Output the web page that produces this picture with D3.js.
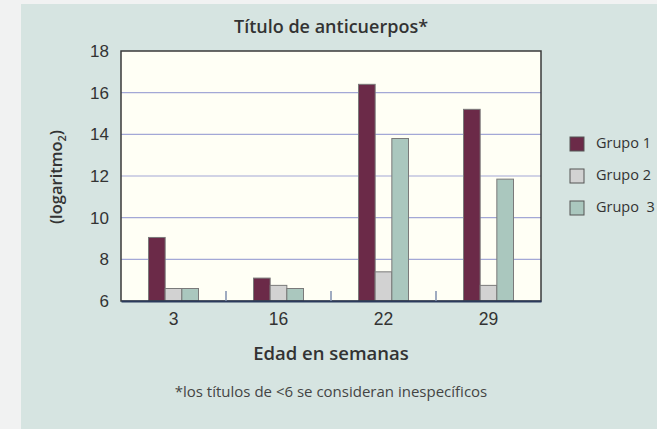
<!DOCTYPE html>
<html>
<head>
<meta charset="utf-8">
<script src="https://cdn.jsdelivr.net/npm/d3@7"></script>
<style>
  body { margin: 0; background: #f1f2f2; }
  svg { display: block; font-family: "Open Sans", sans-serif; }
</style>
</head>
<body>
<div id="chart"></div>
<script>
// Chart data
var weeks = ["3", "16", "22", "29"];
var groups = ["Grupo 1", "Grupo 2", "Grupo  3"];
var grupo1 = [9.05, 7.1, 16.4, 15.2];
var grupo2 = [6.6, 6.75, 7.4, 6.75];
var grupo3 = [6.6, 6.6, 13.8, 11.85];
var yTicks = [6, 8, 10, 12, 14, 16, 18];
var colors = ["#6b2a48", "#d2d2d2", "#aac7be"];

var svgWidth = 657;
var svgHeight = 429;

var margin = { top: 51, right: 116, bottom: 128, left: 121 };
var width = svgWidth - margin.left - margin.right;
var height = svgHeight - margin.top - margin.bottom;

var svg = d3.select("#chart").append("svg")
  .attr("width", svgWidth)
  .attr("height", svgHeight);

// panel background
svg.append("rect")
  .attr("x", 21).attr("y", 4)
  .attr("width", svgWidth - 21).attr("height", svgHeight - 4)
  .attr("fill", "#d6e4e1");

var chartGroup = svg.append("g")
  .attr("transform", `translate(${margin.left}, ${margin.top})`);

var xScale = d3.scaleBand().domain(weeks).range([0, width]);
var yScale = d3.scaleLinear().domain([6, 18]).range([height, 0]);
var subScale = d3.scaleBand().domain(d3.range(groups.length))
  .range([0, 50]);

// plot background
chartGroup.append("rect")
  .attr("width", width).attr("height", height)
  .attr("fill", "#fffff5");

// gridlines
chartGroup.append("g")
  .selectAll("line")
  .data(yTicks.slice(1, -1))
  .enter()
  .append("line")
  .attr("x1", 0).attr("x2", width)
  .attr("y1", d => yScale(d)).attr("y2", d => yScale(d))
  .attr("stroke", "#a3a8d6")
  .attr("stroke-width", 1.2);

// bars
var series = [grupo1, grupo2, grupo3];
series.forEach(function(vals, gi) {
  chartGroup.append("g")
    .selectAll("rect")
    .data(vals)
    .enter()
    .append("rect")
    .attr("x", (d, i) => xScale(weeks[i]) + xScale.bandwidth() / 2 - 25 + subScale(gi))
    .attr("y", d => yScale(d))
    .attr("width", subScale.bandwidth())
    .attr("height", d => yScale(6) - yScale(d))
    .attr("fill", colors[gi])
    .attr("stroke", "#7a7a7a")
    .attr("stroke-width", 1);
});

// frame
chartGroup.append("rect")
  .attr("width", width).attr("height", height)
  .attr("fill", "none")
  .attr("stroke", "#3a3a3a")
  .attr("stroke-width", 1.5);

// x axis
var xAxis = chartGroup.append("g")
  .attr("transform", `translate(0, ${height})`)
  .call(d3.axisBottom(xScale).tickSize(0).tickPadding(12));
xAxis.select(".domain").attr("stroke", "#2b3a5c").attr("stroke-width", 2);
xAxis.selectAll("text").attr("font-size", "17.5px").attr("fill", "#333");

// separator ticks between groups
chartGroup.append("g")
  .selectAll("line")
  .data(weeks.slice(1))
  .enter()
  .append("line")
  .attr("x1", d => xScale(d)).attr("x2", d => xScale(d))
  .attr("y1", height - 10).attr("y2", height)
  .attr("stroke", "#7f8fae")
  .attr("stroke-width", 1.5);

// y axis
var yAxis = chartGroup.append("g")
  .call(d3.axisLeft(yScale).tickValues(yTicks).tickSize(0).tickPadding(12));
yAxis.select(".domain").remove();
yAxis.selectAll("text").attr("font-size", "17px").attr("fill", "#333");

// title
svg.append("text")
  .attr("x", 331).attr("y", 33)
  .attr("text-anchor", "middle")
  .attr("font-size", "18px")
  .attr("font-weight", 600)
  .attr("fill", "#333")
  .text("Título de anticuerpos*");

// y label
var yLabel = svg.append("text")
  .attr("transform", "translate(62, 177) rotate(-90)")
  .attr("text-anchor", "middle")
  .attr("font-size", "16.5px")
  .attr("font-weight", 600)
  .attr("fill", "#333");
yLabel.append("tspan").text("(logaritmo");
yLabel.append("tspan").attr("font-size", "11px").attr("dy", 4).text("2");
yLabel.append("tspan").attr("dy", -4).text(")");

// x label
svg.append("text")
  .attr("x", 331).attr("y", 360)
  .attr("text-anchor", "middle")
  .attr("font-size", "18.5px")
  .attr("font-weight", 600)
  .attr("fill", "#333")
  .text("Edad en semanas");

// footnote
svg.append("text")
  .attr("x", 331).attr("y", 397)
  .attr("text-anchor", "middle")
  .attr("font-size", "15px")
  .attr("fill", "#444")
  .text("*los títulos de <6 se consideran inespecíficos");

// legend
var legend = svg.append("g")
  .selectAll("g")
  .data(groups)
  .enter()
  .append("g")
  .attr("transform", (d, i) => `translate(570, ${137 + i * 32})`);

legend.append("rect")
  .attr("width", 14).attr("height", 14)
  .attr("fill", (d, i) => colors[i])
  .attr("stroke", "#555")
  .attr("stroke-width", 1);

legend.append("text")
  .attr("x", 26).attr("y", 11)
  .attr("font-size", "14.5px")
  .attr("fill", "#333")
  .attr("xml:space", "preserve")
  .style("white-space", "pre")
  .text(d => d);
</script>
</body>
</html>
